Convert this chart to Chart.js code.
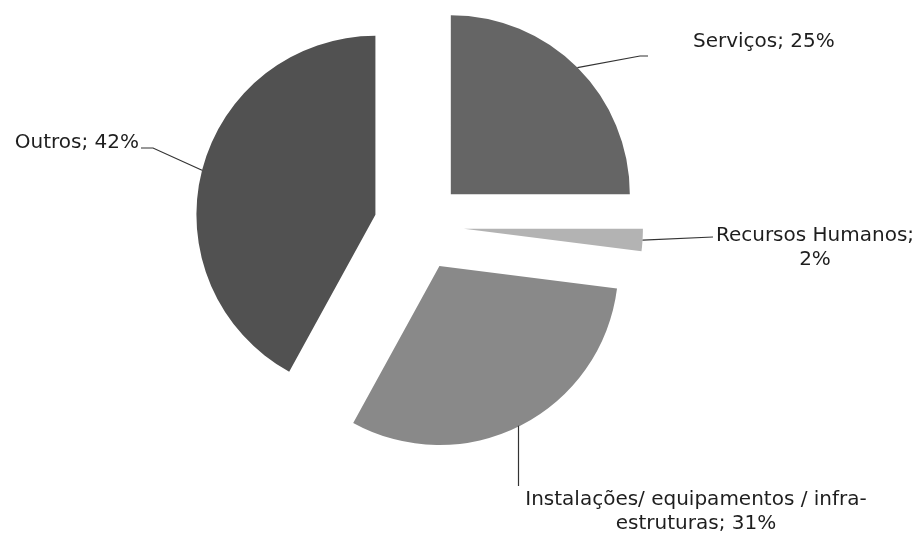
<!DOCTYPE html>
<html>
<head>
<meta charset="utf-8">
<script src="https://cdn.jsdelivr.net/npm/chart.js@4.4.0/dist/chart.umd.min.js"></script>
<style>
  html, body { margin: 0; padding: 0; background: #fff; }
  #pie { display: block; }
</style>
</head>
<body>
<canvas id="pie" width="918" height="533"></canvas>
<script>
// dados do gráfico
var categorias = ["Serviços", "Recursos Humanos", "Instalações/ equipamentos / infra-estruturas", "Outros"];
var valores = [25, 2, 31, 42];
var cores = ["#656565", "#b3b3b3", "#898989", "#515151"];

// linhas de texto de cada rótulo
var rotulos = [
  ["Serviços; 25%"],
  ["Recursos Humanos;", "2%"],
  ["Instalações/ equipamentos / infra-", "estruturas; 31%"],
  ["Outros; 42%"]
];

// posição dos rótulos e das linhas de chamada (layout)
var layoutRotulos = [
  { pontos: [[640, 56], [648, 56]], x: 693, y: 42, align: "left" },
  { pontos: [[713, 237]], x: 815, y: 236, align: "center" },
  { vertical: 486, x: 696, y: 500, align: "center" },
  { pontos: [[153, 148], [141, 148]], x: 139, y: 143, align: "right" }
];

var explode = 45; // afastamento das fatias

// desenha as fatias deslocadas ao longo da bissetriz
var explodePlugin = {
  id: "explode",
  beforeDatasetDraw: function (chart, args) {
    var ctx = chart.ctx;
    var meta = args.meta;
    meta.data.forEach(function (arc) {
      var mid = (arc.startAngle + arc.endAngle) / 2;
      ctx.save();
      ctx.translate(Math.cos(mid) * explode, Math.sin(mid) * explode);
      arc.draw(ctx);
      ctx.restore();
    });
    return false;
  }
};

// rótulos com linhas de chamada
var rotuloPlugin = {
  id: "rotulos",
  afterDatasetsDraw: function (chart) {
    var ctx = chart.ctx;
    var meta = chart.getDatasetMeta(0);
    ctx.save();
    meta.data.forEach(function (arc, i) {
      var mid = (arc.startAngle + arc.endAngle) / 2;
      var r = arc.outerRadius + explode;
      var sx = arc.x + Math.cos(mid) * r;
      var sy = arc.y + Math.sin(mid) * r;
      var lay = layoutRotulos[i];
      ctx.beginPath();
      if (lay.vertical) {
        sx = Math.round(sx) - 2.5;
        var cy = arc.y + Math.sin(mid) * explode;
        var cx = arc.x + Math.cos(mid) * explode;
        sy = cy + Math.sqrt(arc.outerRadius * arc.outerRadius - (sx - cx) * (sx - cx)) - 1;
        ctx.moveTo(sx, sy);
        ctx.lineTo(sx, lay.vertical);
      } else {
        ctx.moveTo(sx, sy);
        lay.pontos.forEach(function (p) {
          ctx.lineTo(p[0], p[1]);
        });
      }
      ctx.strokeStyle = "#333333";
      ctx.lineWidth = 1.2;
      ctx.stroke();

      ctx.fillStyle = "#1e1e1e";
      ctx.font = "20px 'DejaVu Sans', Verdana, sans-serif";
      ctx.textAlign = lay.align;
      ctx.textBaseline = "middle";
      rotulos[i].forEach(function (linha, k) {
        ctx.fillText(linha, lay.x, lay.y + k * 24);
      });
    });
    ctx.restore();
  }
};

var ctxPie = document.getElementById("pie");
var chartPie = new Chart(ctxPie, {
  type: "pie",
  data: {
    labels: categorias,
    datasets: [
      {
        data: valores,
        backgroundColor: cores,
        borderWidth: 0,
        radius: 179,
      },
    ],
  },
  options: {
    responsive: false,
    animation: false,
    events: [],
    layout: {
      padding: { left: 0, right: 80, top: 0, bottom: 81 },
    },
    plugins: {
      legend: { display: false },
      tooltip: { enabled: false },
    },
  },
  plugins: [explodePlugin, rotuloPlugin],
});
</script>
</body>
</html>
